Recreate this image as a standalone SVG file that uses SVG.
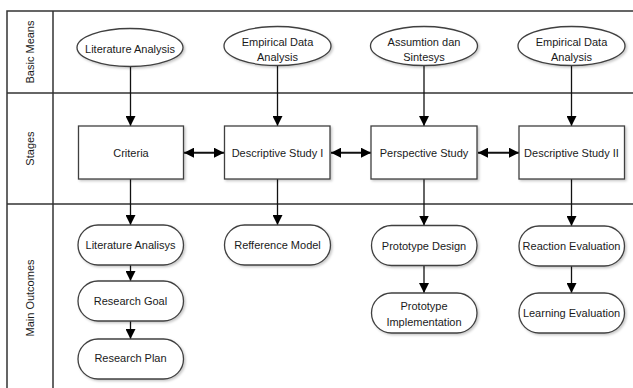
<svg xmlns="http://www.w3.org/2000/svg" width="633" height="388" viewBox="0 0 633 388">
  <defs>
    <filter id="shadow" x="-10%" y="-10%" width="130%" height="140%">
      <feDropShadow dx="1.5" dy="1.5" stdDeviation="1" flood-color="#000" flood-opacity="0.22"/>
    </filter>
    <marker id="head" viewBox="0 0 10 10" refX="10" refY="5" markerWidth="10" markerHeight="10" markerUnits="userSpaceOnUse" orient="auto">
      <path d="M0,0 L10,5 L0,10 Z" fill="#000"/>
    </marker>
    <marker id="headStart" viewBox="0 0 10 10" refX="0" refY="5" markerWidth="12" markerHeight="10" markerUnits="userSpaceOnUse" orient="auto">
      <path d="M10,0 L0,5 L10,10 Z" fill="#000"/>
    </marker>
  </defs>
  <style>
    .lane { stroke: #333; stroke-width: 1.5; fill: none; }
    .node { fill: #fff; stroke: #404040; stroke-width: 1.3; filter: url(#shadow); }
    .lbl { font-family: "Liberation Sans", Arial, sans-serif; font-size: 11px; fill: #1a1a1a; text-anchor: middle; }
    .conn { stroke: #111; stroke-width: 1.3; fill: none; }
    .conn-one { marker-end: url(#head); }
    .conn-two { marker-start: url(#headStart); marker-end: url(#head); stroke-width: 2; }
  </style>

  <rect width="633" height="388" fill="#fff"/>

  <!-- swimlane frame -->
  <g id="lanes">
    <path class="lane" d="M7,400 V11 H640"/>
    <path class="lane" d="M53,11 V400"/>
    <path class="lane" d="M7,93 H640"/>
    <path class="lane" d="M7,204 H640"/>
    <text class="lbl" transform="translate(34,52) rotate(-90)">Basic Means</text>
    <text class="lbl" transform="translate(34,148.5) rotate(-90)">Stages</text>
    <text class="lbl" transform="translate(34,298) rotate(-90)">Main Outcomes</text>
  </g>

  <!-- connectors -->
  <g id="connectors">
    <line class="conn conn-one" x1="130.5" y1="67" x2="130.5" y2="126"/>
    <line class="conn conn-one" x1="277.5" y1="66" x2="277.5" y2="126"/>
    <line class="conn conn-one" x1="424" y1="66" x2="424" y2="126"/>
    <line class="conn conn-one" x1="571.5" y1="66" x2="571.5" y2="126"/>

    <line class="conn conn-two" x1="184" y1="152.7" x2="224" y2="152.7"/>
    <line class="conn conn-two" x1="331" y1="152.7" x2="371" y2="152.7"/>
    <line class="conn conn-two" x1="478" y1="152.7" x2="519" y2="152.7"/>

    <line class="conn conn-one" x1="130.5" y1="179" x2="130.5" y2="225"/>
    <line class="conn conn-one" x1="277.5" y1="179" x2="277.5" y2="225"/>
    <line class="conn conn-one" x1="424" y1="179" x2="424" y2="225.5"/>
    <line class="conn conn-one" x1="571.5" y1="179" x2="571.5" y2="226"/>

    <line class="conn conn-one" x1="130.5" y1="265" x2="130.5" y2="281"/>
    <line class="conn conn-one" x1="130.5" y1="321" x2="130.5" y2="339"/>
    <line class="conn conn-one" x1="424" y1="265.5" x2="424" y2="293"/>
    <line class="conn conn-one" x1="571.5" y1="266" x2="571.5" y2="293"/>
  </g>

  <!-- basic means -->
  <g id="literature-analysis">
    <ellipse class="node" cx="130" cy="47.5" rx="53" ry="19"/>
    <text class="lbl" x="130" y="53">Literature Analysis</text>
  </g>
  <g id="empirical-data-1">
    <ellipse class="node" cx="277.5" cy="46" rx="53.5" ry="19.5"/>
    <text class="lbl" x="277.5" y="46">Empirical Data</text>
    <text class="lbl" x="277.5" y="61">Analysis</text>
  </g>
  <g id="assumtion-sintesys">
    <ellipse class="node" cx="424" cy="46" rx="53.5" ry="19.5"/>
    <text class="lbl" x="424" y="46">Assumtion dan</text>
    <text class="lbl" x="424" y="61">Sintesys</text>
  </g>
  <g id="empirical-data-2">
    <ellipse class="node" cx="571.5" cy="46" rx="53.5" ry="19.5"/>
    <text class="lbl" x="571.5" y="46">Empirical Data</text>
    <text class="lbl" x="571.5" y="61">Analysis</text>
  </g>

  <!-- stages -->
  <g id="criteria">
    <rect class="node" x="78.5" y="126" width="105" height="53"/>
    <text class="lbl" x="131" y="156.5">Criteria</text>
  </g>
  <g id="descriptive-study-1">
    <rect class="node" x="224.5" y="126" width="105.5" height="53"/>
    <text class="lbl" x="277.5" y="156.5">Descriptive Study I</text>
  </g>
  <g id="perspective-study">
    <rect class="node" x="371" y="126" width="106" height="53"/>
    <text class="lbl" x="424" y="156.5">Perspective Study</text>
  </g>
  <g id="descriptive-study-2">
    <rect class="node" x="519" y="126" width="105.5" height="53"/>
    <text class="lbl" x="571.5" y="156.5">Descriptive Study II</text>
  </g>

  <!-- main outcomes -->
  <g id="literature-analisys">
    <rect class="node" x="78" y="225" width="105.5" height="40" rx="20"/>
    <text class="lbl" x="130.5" y="249">Literature Analisys</text>
  </g>
  <g id="research-goal">
    <rect class="node" x="78" y="281" width="105.5" height="40" rx="20"/>
    <text class="lbl" x="130.5" y="304.5">Research Goal</text>
  </g>
  <g id="research-plan">
    <rect class="node" x="78" y="339" width="105.5" height="40" rx="20"/>
    <text class="lbl" x="130.5" y="361.5">Research Plan</text>
  </g>
  <g id="refference-model">
    <rect class="node" x="224.5" y="225" width="106" height="40" rx="20"/>
    <text class="lbl" x="277.5" y="249">Refference Model</text>
  </g>
  <g id="prototype-design">
    <rect class="node" x="371.5" y="225.5" width="105.5" height="40" rx="20"/>
    <text class="lbl" x="424" y="249.5">Prototype Design</text>
  </g>
  <g id="prototype-implementation">
    <rect class="node" x="371.5" y="293" width="105.5" height="40" rx="20"/>
    <text class="lbl" x="424" y="309.5">Prototype</text>
    <text class="lbl" x="424" y="325.5">Implementation</text>
  </g>
  <g id="reaction-evaluation">
    <rect class="node" x="519" y="226" width="105.5" height="40" rx="20"/>
    <text class="lbl" x="571.5" y="249.5">Reaction Evaluation</text>
  </g>
  <g id="learning-evaluation">
    <rect class="node" x="519" y="293" width="105.5" height="40" rx="20"/>
    <text class="lbl" x="571.5" y="317">Learning Evaluation</text>
  </g>
</svg>
